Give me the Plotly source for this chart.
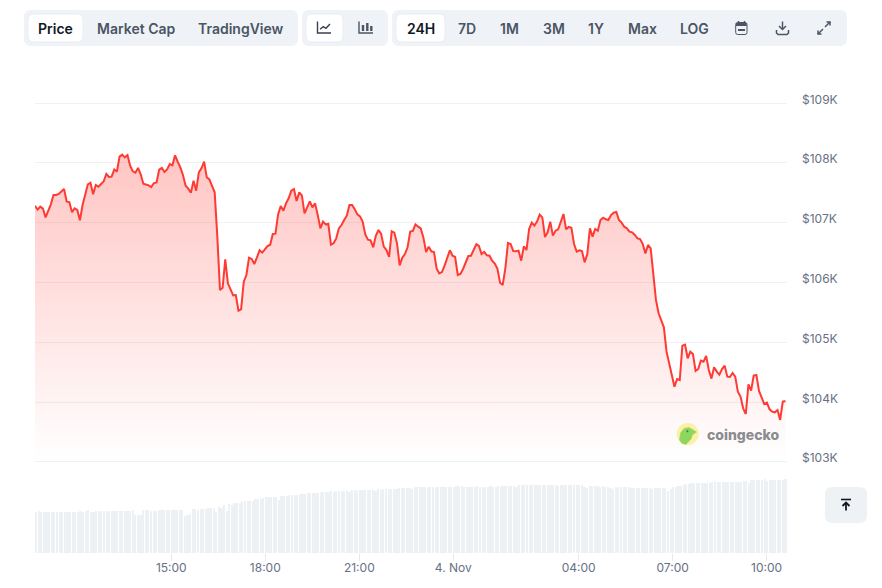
import pandas as pd
import plotly.graph_objects as go

W, H = 882, 588

START = "2025-11-03 10:39"
LAST_PRICE = "2025-11-04 10:36"
price = [
107284,107217,107267,107234,107089,107201,107306,107462,107462,107479,107518,107563,107351,107345,107173,107240,107212,107039,107295,107490,
107641,107668,107474,107630,107602,107646,107691,107813,107763,107769,107891,107852,108103,108137,108092,108131,107953,107858,107836,107914,
107808,107652,107641,107624,107596,107663,107674,107886,107914,107847,107891,107980,107958,108125,108020,107925,107797,107618,107568,107501,
107702,107535,107841,107908,108020,107758,107724,107618,107507,106766,105875,105914,106387,105986,105875,105785,105791,105529,105552,106014,
106125,106415,106393,106309,106421,106538,106499,106554,106610,106632,106811,106816,107139,107279,107201,107323,107407,107535,107563,107362,107507,
107457,107156,107256,107357,107256,107323,107128,106905,107017,106972,106983,106632,106655,106738,106905,106961,107045,107117,107295,107295,
107223,107139,107106,107017,106805,106716,106705,106588,106783,106877,106811,106599,106543,106426,106855,106833,106655,106287,106415,106476,
106588,106850,106861,106972,106933,106905,106749,106510,106599,106521,106510,106231,106153,106175,106281,106404,106538,106448,106426,106125,
106142,106226,106331,106443,106448,106543,106638,106610,106476,106510,106454,106448,106365,106315,106231,105997,105958,106237,106660,106643,
106526,106521,106532,106365,106604,106543,106894,107000,106950,107017,107134,107089,106760,106838,107017,
106783,106866,106889,107017,107145,106889,106928,106916,106643,106515,106538,106526,106337,106471,106905,106766,106894,106866,107045,107084,
107056,107045,107128,107167,107178,107045,107000,106933,106905,106850,106838,106794,106738,106727,106643,106487,106627,106571,106097,105708,
105485,105362,105251,104844,104621,104454,104259,104387,104370,104944,104961,104733,104844,104805,104521,104554,104694,104677,104772,104538,
104393,104582,104510,104460,104554,104610,104426,104421,104487,104426,104175,104092,103897,103802,104298,104192,104443,104454,104187,104092,
103969,103992,103880,103841,103830,103869,103702,104008,104019,
]
volume = [
41.3,42,41.3,41.3,41.3,41.3,41.3,41.3,41.3,41.3,41.3,41.3,41.3,41.3,41.3,41.3,41.3,
42,41.3,42.3,43,41.3,41.3,
42.3,42.3,42.3,42.3,42.3,42.3,42.3,42.3,42.3,42.3,42.3,42.3,42.3,42.3,43,38.3,38.3,38.3,43,43,43,
42.3,42,42,43,43,43,43,43,43,43,43,43,43,
37.3,38.3,39,44,44,43.3,44,44,44.3,45,45,45.3,40.7,46,45.3,48,42,48.7,47.7,50,
50,50.3,51.7,52.3,52.3,51.7,52.3,54,54,54,55,55.7,56,56.3,56.3,56.3,53,57,57,57.3,
58,58.3,58.3,58.3,59,59,59,60,60,60,60,60,61,61,61,61.3,62,61.3,62,62,
62,62,62,60.7,63.3,63.3,62,63.3,63.3,63.3,63.3,63.3,63.3,62,64,63.3,
64,64,64,64,64,64,65.3,65.3,65.3,65.3,65.3,64,65.7,66.3,66.3,65.7,
66.3,66.3,66.3,66.3,66.3,66.3,66.3,
66.3,66.3,66.3,66.3,66.3,67.3,67.3,67.3,66.3,66.3,66.3,66.3,66.3,67,66.3,66.3,66.3,66.3,67,66.3,66.3,
67.3,67.3,67.3,67.3,67.3,67.3,67.3,66.3,
68.3,68.3,68.3,68.3,68.3,68.3,68.3,68.3,68.3,68.3,68.3,68.3,68.3,68.3,68.3,67.3,
68.3,68.3,68.3,68.3,68.3,68.3,68,68.3,68.3,66.3,65,67.3,67.3,67.3,67.3,65.7,67,66.3,66.3,65,64,
66.3,66.3,66.3,66.3,66.3,66.3,65,65.3,65.3,65.3,65.3,65.3,65.3,65.3,64,65.3,65.3,65.3,65.3,65.3,
62.3,64,65.7,66.3,67.3,67.3,68,69,69,69.7,70,70,70,70,70,70,70,
71,71,71,71,71,71,71,71,71,71,71,71,71.7,72.3,70,73.3,73.3,73.3,73.3,73.3,74,71.7,
73.3,73.3,73.3,73.3,73.3,73.3,74,74,
]
y_ticks = [103000, 104000, 105000, 106000, 107000, 108000, 109000]
y_labels = ["$103K", "$104K", "$105K", "$106K", "$107K", "$108K", "$109K"]
x_ticks = ["2025-11-03 15:00", "2025-11-03 18:00", "2025-11-03 21:00", "2025-11-04 00:00",
           "2025-11-04 04:00", "2025-11-04 07:00", "2025-11-04 10:00"]
x_labels = ["15:00", "18:00", "21:00", "4. Nov", "04:00", "07:00", "10:00"]
tabs_active = [("Price", 55), ("24H", 420.5)]
tabs_idle = [("Market Cap", 135.5), ("TradingView", 241), ("7D", 467), ("1M", 509.5),
             ("3M", 553.5), ("1Y", 596), ("Max", 642), ("LOG", 694)]

price_time = pd.date_range(START, LAST_PRICE, periods=len(price))
vol_time = pd.date_range(START, periods=len(volume), freq="5min")

FX = lambda x: x / W
FY = lambda y: 1 - y / H


def rrect(x0, y0, x1, y1, r):
    a, b, c, d = FX(x0), FY(y0), FX(x1), FY(y1)
    rx, ry = r / W, r / H
    return (f"M{a + rx},{b} L{c - rx},{b} Q{c},{b} {c},{b - ry} L{c},{d + ry} Q{c},{d} {c - rx},{d} "
            f"L{a + rx},{d} Q{a},{d} {a},{d + ry} L{a},{b - ry} Q{a},{b} {a + rx},{b} Z")


def poly(points, close=False):
    s = "M" + " L".join(f"{FX(x)},{FY(y)}" for x, y in points)
    return s + (" Z" if close else "")


def box(x0, y0, x1, y1, r, fill, line=None, layer="below"):
    return dict(type="path", xref="paper", yref="paper", path=rrect(x0, y0, x1, y1, r),
                fillcolor=fill, line=dict(width=1 if line else 0, color=line or "rgba(0,0,0,0)"), layer=layer)


def stroke(points, color="#4b5563", width=1.5, close=False, fill=None):
    return dict(type="path", xref="paper", yref="paper", path=poly(points, close),
                fillcolor=fill or "rgba(0,0,0,0)", line=dict(width=width, color=color), layer="above")


BG = "#eff3f8"
ICON = "#4b5563"
shapes = [
    box(24, 10, 298, 46, 7, BG), box(302, 10, 388, 46, 7, BG), box(392, 10, 847, 46, 7, BG),
    box(28, 14, 83, 42, 6, "#ffffff", "#e9edf3"), box(306, 14, 343, 42, 6, "#ffffff", "#e9edf3"),
    box(396, 14, 445, 42, 6, "#ffffff", "#e9edf3"),
    box(825, 487, 867, 523, 7, "#eff2f5"),
    # line-chart icon
    stroke([(317.5, 21.5), (317.5, 33), (331, 33)], "#374151", 1.4),
    stroke([(320, 29.3), (323.3, 26.7), (326, 28.3), (330, 24)], "#374151", 1.4),
    # candlestick icon
    stroke([(359, 21.5), (359, 33), (373, 33)], ICON, 1.4),
    stroke([(363, 25), (363, 31)], ICON, 2.4), stroke([(367.3, 23), (367.3, 31)], ICON, 2.4),
    stroke([(371.3, 26), (371.3, 31)], ICON, 2.4),
    # calendar icon
    box(735.7, 22.5, 747, 34.5, 2, BG, ICON, "above"),
    stroke([(736, 24.5), (746.7, 24.5)], ICON, 3),
    stroke([(738.5, 21), (738.5, 23)], ICON, 1.5), stroke([(744.5, 21), (744.5, 23)], ICON, 1.5),
    stroke([(738, 30), (745, 30)], ICON, 2),
    # download icon
    stroke([(782.5, 21.5), (782.5, 29)], ICON, 1.5),
    stroke([(779, 26), (782.5, 29.5), (786, 26)], ICON, 1.5),
    stroke([(776.5, 30), (776.5, 33), (778, 34.5), (787, 34.5), (788.5, 33), (788.5, 30)], ICON, 1.5),
    # expand icon
    stroke([(825, 27), (830, 22)], ICON, 1.5), stroke([(826.5, 22), (830, 22), (830, 25.5)], ICON, 1.5),
    stroke([(818, 34), (823, 29)], ICON, 1.5), stroke([(818, 30.5), (818, 34), (821.5, 34)], ICON, 1.5),
    # back-to-top icon
    stroke([(841, 499.5), (851, 499.5)], "#111827", 1.6),
    stroke([(846, 510.5), (846, 502.5)], "#111827", 1.8),
    stroke([(842.5, 506), (846, 502.5), (849.5, 506)], "#111827", 1.8),
    # logo badge
    dict(type="circle", xref="paper", yref="paper", x0=FX(676.7), x1=FX(698.7), y0=FY(445), y1=FY(423),
         fillcolor="#fcefa6", line=dict(width=0), layer="above"),
    stroke([(679.5, 440), (680.5, 433), (684, 428.5), (689, 427.5), (692.5, 429.5), (696.5, 432), (692.5, 434.5),
            (691, 439), (686, 444.5), (682, 443.5)], "#8fd65f", 0.5, True, "#8fd65f"),
    dict(type="circle", xref="paper", yref="paper", x0=FX(686.4), x1=FX(688.4), y0=FY(432.2), y1=FY(430.2),
         fillcolor="#5a6a50", line=dict(width=0), layer="above"),
]

FONT = "Inter, 'Noto Sans', sans-serif"
annotations = []
for text, x in tabs_active:
    annotations.append(dict(text=text, x=FX(x), y=FY(28), xref="paper", yref="paper", showarrow=False,
                            xanchor="center", yanchor="middle",
                            font=dict(family=FONT, size=14, color="#111827", weight=600)))
for text, x in tabs_idle:
    annotations.append(dict(text=text, x=FX(x), y=FY(28), xref="paper", yref="paper", showarrow=False,
                            xanchor="center", yanchor="middle",
                            font=dict(family=FONT, size=14, color="#4b5563", weight=600)))
for tick, label in zip(y_ticks, y_labels):
    annotations.append(dict(text=label, x=FX(799.5), y=tick, xref="paper", yref="y", yshift=4, showarrow=False,
                            xanchor="left", yanchor="middle", font=dict(family=FONT, size=12, color="#677084")))
annotations.append(dict(text="coingecko", x=FX(704.5), y=FY(434), xref="paper", yref="paper", showarrow=False,
                        xanchor="left", yanchor="middle",
                        font=dict(family="Inter, sans-serif", size=14, color="#8a8c90", weight=800)))

fig = go.Figure()
fig.add_trace(go.Bar(x=vol_time, y=volume, xaxis="x", yaxis="y2", marker=dict(color="#eef1f4", line=dict(width=0)),
                     width=4.2 * 60000, offset=0, hoverinfo="skip", showlegend=False))
fig.add_trace(go.Scatter(x=price_time, y=price, xaxis="x", yaxis="y", mode="lines",
                         line=dict(color="#ff3a33", width=2), fill="tozeroy",
                         fillgradient=dict(type="vertical", start=108300, stop=103000,
                                           colorscale=[[0, "rgba(255,58,51,0.30)"], [1, "rgba(255,58,51,0.0)"]]),
                         hoverinfo="skip", showlegend=False))

fig.update_layout(
    width=W, height=H, margin=dict(l=0, r=0, t=0, b=0), autosize=False,
    paper_bgcolor="#ffffff", plot_bgcolor="rgba(0,0,0,0)", hovermode=False, bargap=0,
    shapes=shapes, annotations=annotations, font=dict(family=FONT),
    xaxis=dict(domain=[FX(35), FX(787)], anchor="y2", type="date", range=["2025-11-03 10:39", "2025-11-04 10:39"],
               tickmode="array", tickvals=x_ticks, ticktext=x_labels, ticks="outside", ticklen=7, tickwidth=1,
               tickcolor="#e6e9ee", showgrid=False, zeroline=False, showline=False, ticklabelstandoff=-3,
               tickfont=dict(family=FONT, size=12, color="#677084")),
    yaxis=dict(domain=[FY(463), FY(102)], range=[102983, 109017], anchor="x", side="right", tickmode="array",
               tickvals=y_ticks, showticklabels=False, ticks="", showgrid=True, gridcolor="#f0f1f4", gridwidth=1,
               zeroline=False, showline=False),
    yaxis2=dict(domain=[FY(553), FY(474)], range=[0, 79], anchor="x", showticklabels=False, ticks="",
                showgrid=False, zeroline=False, showline=False),
)
fig.write_html("out.html", post_script="document.body.style.margin='0';", config={"displayModeBar": False})
